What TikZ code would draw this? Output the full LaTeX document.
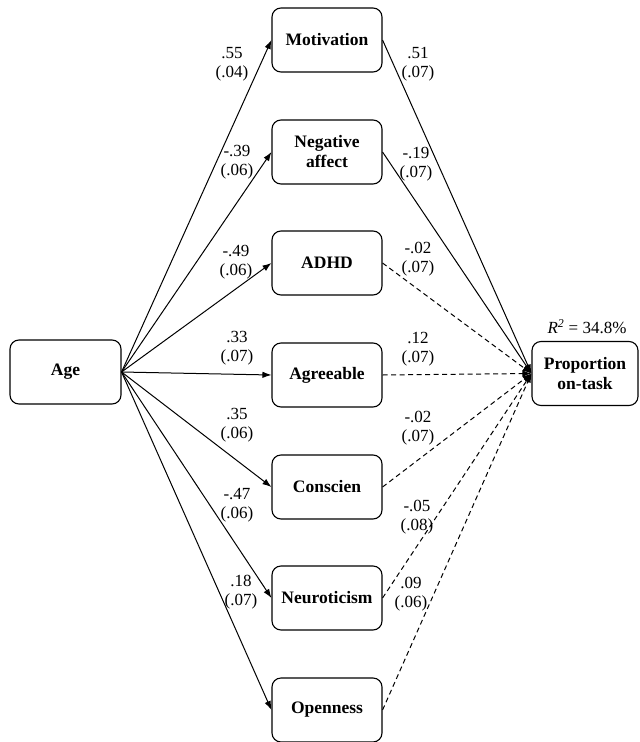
\documentclass[tikz,border=0pt]{standalone}
\usepackage{fontspec}
\setmainfont{Liberation Serif}
\usetikzlibrary{arrows.meta}
\begin{document}
\begin{tikzpicture}[x=1pt,y=-1pt,
  box/.style={draw,line width=1.1pt,rounded corners=9pt,minimum width=110pt,minimum height=64pt,align=center,font=\fontsize{17.5}{20}\selectfont\bfseries,inner sep=2pt},
  lab/.style={align=center,font=\fontsize{17}{19}\selectfont,inner sep=0pt},
  path/.style={line width=1pt,-{Latex[length=9pt,width=6.5pt]}},
  npath/.style={path,dash pattern=on 5pt off 3.5pt}]
\useasboundingbox (0,0) rectangle (640,742);
\node[box,minimum width=111pt] (age) at (65.5,372) {Age};
\node[box,minimum width=106pt] (pot) at (585,373.5) {Proportion\\on-task};
\node[box] (mot) at (327,40) {Motivation};
\node[box] (neg) at (327,152) {Negative\\affect};
\node[box] (adhd) at (327,263) {ADHD};
\node[box] (agr) at (327,375) {Agreeable};
\node[box] (con) at (327,487) {Conscien};
\node[box] (neu) at (327,598) {Neuroticism};
\node[box] (ope) at (327,710) {Openness};
\foreach \n in {mot,neg,adhd,agr,con,neu,ope} {\draw[path] (age.east) -- (\n.west);}
\draw[path] (mot.east) -- (pot.west);
\draw[path] (neg.east) -- (pot.west);
\foreach \n in {adhd,agr,con,neu,ope} {\draw[npath] (\n.east) -- (pot.west);}
\node[lab] (l1) at (232,64) {.55\\(.04)};
\node[lab] (l2) at (237,162) {-.39\\(.06)};
\node[lab] (l3) at (236,262) {-.49\\(.06)};
\node[lab] (l4) at (237,348) {.33\\(.07)};
\node[lab] (l5) at (237,425) {.35\\(.06)};
\node[lab] (l6) at (237,505) {-.47\\(.06)};
\node[lab] (l7) at (241,592) {.18\\(.07)};
\node[lab] (r1) at (418,64) {.51\\(.07)};
\node[lab] (r2) at (416,164) {-.19\\(.07)};
\node[lab] (r3) at (418,259) {-.02\\(.07)};
\node[lab] (r4) at (418,349) {.12\\(.07)};
\node[lab] (r5) at (418,428) {-.02\\(.07)};
\node[lab] (r6) at (417,517) {-.05\\(.08)};
\node[lab] (r7) at (411,594) {.09\\(.06)};
\node[lab] (rsq) at (587,327) {\textit{R}\textsuperscript{\textit{2}} = 34.8\%};
\end{tikzpicture}
\end{document}
